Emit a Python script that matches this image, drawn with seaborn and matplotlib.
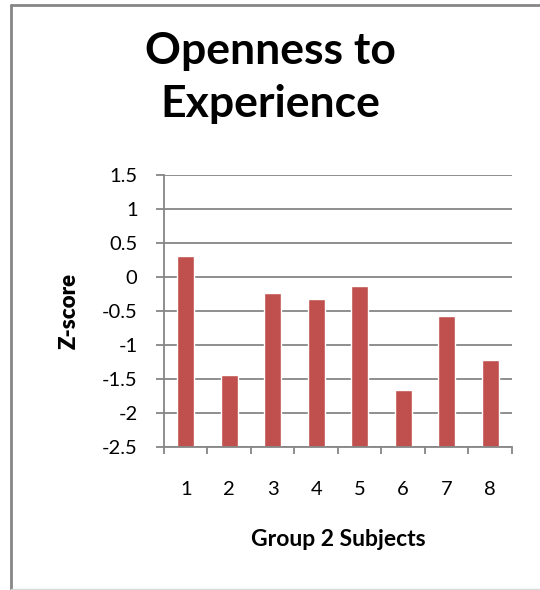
#import libraries
import numpy as np
import seaborn as sns
import matplotlib.pyplot as plt
from matplotlib.lines import Line2D

#chart data
subjects = ['1', '2', '3', '4', '5', '6', '7', '8']
zscores = [0.31, -1.45, -0.24, -0.33, -0.13, -1.66, -0.57, -1.22]
y_ticks = [-2.5, -2, -1.5, -1, -0.5, 0, 0.5, 1, 1.5]
y_tick_labels = ['-2.5', '-2', '-1.5', '-1', '-0.5', '0', '0.5', '1', '1.5']

#style
sns.set_style('white', {'text.color': 'black', 'axes.labelcolor': 'black',
                        'xtick.color': 'black', 'ytick.color': 'black'})
plt.rcParams['font.family'] = ['Lato', 'DejaVu Sans']
grey = '#868686'
bar_red = '#C0504D'
y_min, y_max = -2.5, 1.5

fig = plt.figure(figsize=(5.4, 5.9), dpi=100)
ax = fig.add_axes([0.3037, 0.2429, 0.6444, 0.4605])

#bars rise from the bottom of the axis (Excel style)
heights = np.array(zscores) - y_min
sns.barplot(x=subjects, y=heights, color=bar_red, width=0.4, saturation=1,
            bottom=y_min, ax=ax)

ax.set_ylim(y_min, y_max)
ax.set_xlim(-0.5, len(subjects) - 0.5)
ax.set_yticks(y_ticks)
ax.set_yticklabels(y_tick_labels)
ax.set_xticks(range(len(subjects)))
ax.set_xticklabels(subjects)
ax.set_xticks(np.arange(-0.5, len(subjects), 1), minor=True)

ax.set_axisbelow(True)
ax.yaxis.grid(True, color=grey, linewidth=1.3)
ax.xaxis.grid(False)
for s in ['top', 'right']:
    ax.spines[s].set_visible(False)
for s in ['left', 'bottom']:
    ax.spines[s].set_color(grey)
    ax.spines[s].set_linewidth(1.3)

ax.tick_params(axis='y', which='major', left=True, length=6, width=1.3, color=grey,
               labelcolor='black', pad=13, labelsize=14.5)
ax.tick_params(axis='x', which='major', bottom=True, length=0, pad=25,
               labelcolor='black', labelsize=14.5)
ax.tick_params(axis='x', which='minor', bottom=True, length=5, width=1.3, color=grey)

ax.set_ylabel('Z-score', fontsize=16, fontweight='heavy', labelpad=16, color='black')
ax.set_xlabel('Group 2 Subjects', fontsize=16.5, fontweight='bold', labelpad=22,
              color='black')

fig.text(0.5, 0.868, 'Openness to\nExperience', ha='center', va='center',
         fontsize=32, fontweight='bold', linespacing=1.4, color='black')

#chart border
fig.add_artist(Line2D([11 / 540, 11 / 540], [0.002, 1 - 4.5 / 590], color=grey, lw=2))
fig.add_artist(Line2D([11 / 540, 1], [1 - 4.5 / 590, 1 - 4.5 / 590], color=grey, lw=2))
fig.add_artist(Line2D([11 / 540, 1], [0.002, 0.002], color='#d9d9d9', lw=1))

fig.savefig('out.png', dpi=100)
